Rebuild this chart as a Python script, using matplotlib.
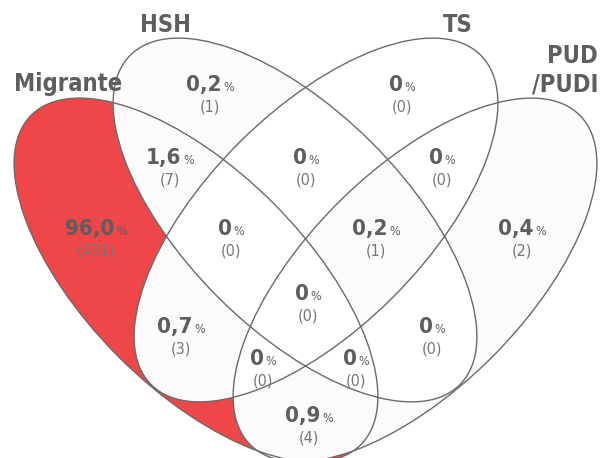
import matplotlib
matplotlib.use("Agg")
import matplotlib.pyplot as plt
import numpy as np
from matplotlib.patches import Ellipse
from matplotlib.offsetbox import TextArea, HPacker, AnnotationBbox
from matplotlib import font_manager

# sets, in order Migrante, HSH, TS, PUD/PUDI
set_names = ["Migrante", "HSH", "TS", "PUD\n/PUDI"]

# each region: membership flags for the four sets
regions = ["1000", "0100", "0010", "0001",
           "1100", "0110", "0011", "1010", "0101", "1001",
           "1110", "0111", "1011", "1101", "1111"]
percents = ["96,0", "0,2", "0", "0,4",
            "1,6", "0", "0", "0,7", "0", "0,9",
            "0", "0,2", "0", "0", "0"]
counts = [431, 1, 0, 2,
          7, 0, 0, 3, 0, 4,
          0, 1, 0, 0, 0]

# layout (pixel coords of the 601x458 picture)
W, H = 601, 458
centers = [(196, 280), (295, 220), (316, 220), (415, 280)]
angles = [45, 45, -45, -45]
A, B = 233, 109

label_pos = {
    "1000": (96, 229), "0100": (210, 85), "0010": (402, 85), "0001": (522, 229),
    "1100": (170, 158), "0110": (306, 158), "0011": (442, 158), "1010": (181, 327),
    "0101": (432, 327), "1001": (309, 416),
    "1110": (231, 229), "0111": (376, 229), "1011": (263, 359), "1101": (356, 359),
    "1111": (308, 294),
}

red = "#ef4649"
light = "#fcfbfa"
text_col = "#5e5e5e"
count_col = "#767676"
line_col = "#6a6a6a"

# pick a narrow face if one is installed
fonts = font_manager.fontManager.ttflist
narrow = [f for f in fonts if f.stretch in ("condensed", "semi-condensed", "extra-condensed")
          or "Narrow" in f.name or "Condensed" in f.name]
names = {f.name for f in fonts}
stretch = "normal"
if "Liberation Sans Narrow" in names:
    font = "Liberation Sans Narrow"
elif narrow:
    font = narrow[0].name
    stretch = narrow[0].stretch
else:
    font = "Roboto"
plt.rcParams["font.family"] = [font, "DejaVu Sans"]
plt.rcParams["font.stretch"] = stretch

fig = plt.figure(figsize=(W / 100, H / 100), dpi=100)
ax = fig.add_axes([0, 0, 1, 1])
ax.set_xlim(0, W)
ax.set_ylim(H, 0)
ax.axis("off")

# region fills
s = 3
xs = (np.arange(W * s) + 0.5) / s
ys = (np.arange(H * s) + 0.5) / s
X, Y = np.meshgrid(xs, ys)
inside = []
for (cx, cy), ang in zip(centers, angles):
    t = np.deg2rad(ang)
    dx, dy = X - cx, Y - cy
    u = dx * np.cos(t) + dy * np.sin(t)
    v = -dx * np.sin(t) + dy * np.cos(t)
    inside.append(u ** 2 / A ** 2 + v ** 2 / B ** 2 <= 1)

img = np.ones((H * s, W * s, 3))
for key, n in zip(regions, counts):
    if n == 0:
        continue
    m = np.ones_like(X, dtype=bool)
    for flag, ins in zip(key, inside):
        m &= ins if flag == "1" else ~ins
    col = red if n == max(counts) else light
    img[m] = matplotlib.colors.to_rgb(col)
ax.imshow(img, extent=(0, W, H, 0), interpolation="antialiased", zorder=1)

for (cx, cy), ang in zip(centers, angles):
    ax.add_patch(Ellipse((cx, cy), 2 * A, 2 * B, angle=ang, fill=False,
                         edgecolor=line_col, linewidth=1.0, zorder=2))

# region labels
for key, p, n in zip(regions, percents, counts):
    x, y = label_pos[key]
    num = TextArea(p, textprops=dict(fontsize=16, fontweight="bold", color=text_col))
    pct = TextArea("%", textprops=dict(fontsize=9, color=text_col))
    box = HPacker(children=[num, pct], align="baseline", pad=0, sep=1)
    ab = AnnotationBbox(box, (x, y), frameon=False, box_alignment=(0.5, 0.5), zorder=3)
    ax.add_artist(ab)
    ax.text(x, y + 22, f"({n})", fontsize=11.5, color=count_col,
            ha="center", va="center", zorder=3)

# set labels
lab = dict(fontsize=17, fontweight="bold", color=text_col, va="baseline", zorder=3)
ax.text(14, 91, set_names[0], ha="left", **lab)
ax.text(166, 32, set_names[1], ha="center", **lab)
ax.text(458, 32, set_names[2], ha="center", **lab)
for i, line in enumerate(set_names[3].split("\n")):
    ax.text(598, 63 + 28 * i, line, ha="right", **lab)

fig.savefig("out.png", dpi=100)
